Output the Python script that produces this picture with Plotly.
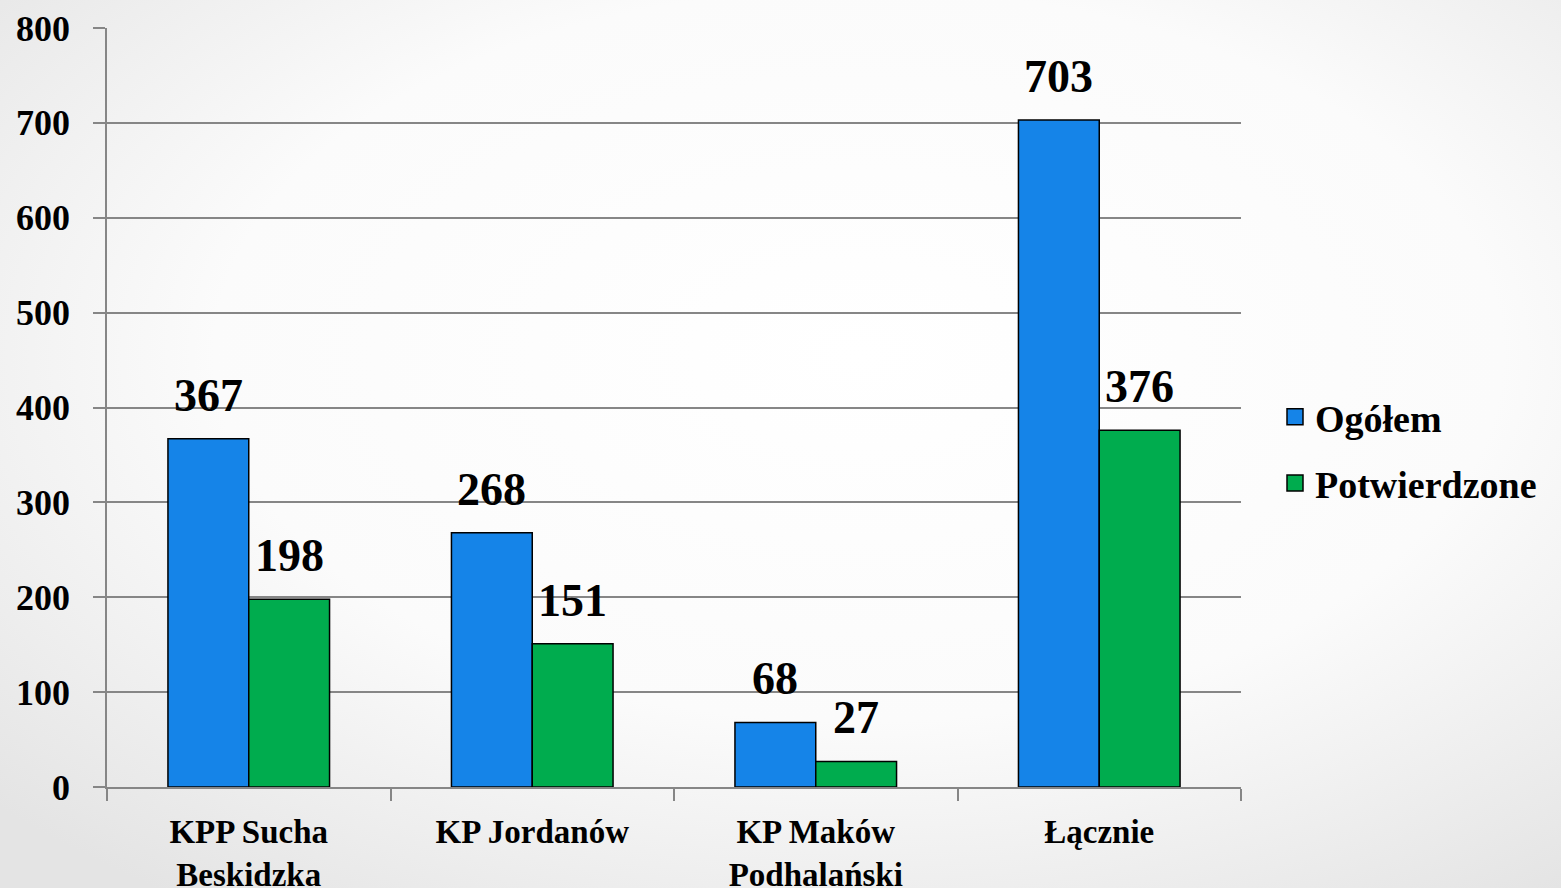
import base64
import plotly.graph_objects as go

categories = ["KPP Sucha<br>Beskidzka", "KP Jordanów", "KP Maków<br>Podhalański", "Łącznie"]
ogolem = [367, 268, 68, 703]
potwierdzone = [198, 151, 27, 376]
series_names = ["Ogółem", "Potwierdzone"]
y_ticks = [0, 100, 200, 300, 400, 500, 600, 700, 800]

FONT = "Palatino Linotype, Book Antiqua, Palatino, Liberation Serif, serif"
W, H = 1561, 888
L, R, T, B = 107, 320, 28, 101
pw, ph = W - L - R, H - T - B
colors = ["#1584e8", "#00ac4e"]

fig = go.Figure()
for name, vals, col, grp in ((series_names[0], ogolem, colors[0], "a"),
                             (series_names[1], potwierdzone, colors[1], "b")):
    fig.add_trace(go.Bar(x=categories, y=vals, name=name, legendgroup=grp, showlegend=False,
                         marker=dict(color=col, line=dict(color="#000000", width=1.5))))
    # legend entry with a larger square swatch
    fig.add_trace(go.Scatter(x=[None], y=[None], mode="markers", name=name, legendgroup=grp,
                             marker=dict(symbol="square", size=20, color=col,
                                         line=dict(color="#000000", width=1.5))))

bar_px = pw / len(categories) * (1 - 0.43) / 2
for vals, sign in ((ogolem, -1), (potwierdzone, 1)):
    for c, v in zip(categories, vals):
        fig.add_annotation(x=c, y=v, xref="x", yref="y", text=str(v),
                           showarrow=False, xshift=sign * bar_px / 2, yshift=16,
                           yanchor="bottom",
                           font=dict(family=FONT, size=46, color="#000", weight="bold"))

svg = f'''<svg xmlns="http://www.w3.org/2000/svg" width="{W}" height="{H}">
<defs><radialGradient id="g" cx="55%" cy="40%" r="75%">
<stop offset="0%" stop-color="#ffffff"/><stop offset="55%" stop-color="#fbfbfb"/>
<stop offset="100%" stop-color="#e4e4e4"/></radialGradient></defs>
<rect width="{W}" height="{H}" fill="url(#g)"/></svg>'''
uri = "data:image/svg+xml;base64," + base64.b64encode(svg.encode()).decode()
fig.add_layout_image(source=uri, xref="paper", yref="paper", x=-L / pw, y=1 + T / ph,
                     sizex=W / pw, sizey=H / ph, xanchor="left", yanchor="top",
                     sizing="stretch", layer="below")

fig.update_layout(
    width=W, height=H,
    margin=dict(l=L, r=R, t=T, b=B, autoexpand=False),
    paper_bgcolor="#f4f4f4", plot_bgcolor="rgba(0,0,0,0)",
    barmode="group", bargap=0.43, bargroupgap=0,
    font=dict(family=FONT, color="#000"),
    showlegend=True,
    legend=dict(x=(1275 - L) / pw, y=(H - B - 450) / ph, xanchor="left", yanchor="middle",
                font=dict(family=FONT, size=38, color="#000", weight="bold"),
                itemsizing="trace", itemwidth=30,
                traceorder="grouped", tracegroupgap=14, bgcolor="rgba(0,0,0,0)"),
)
fig.update_xaxes(showline=True, linecolor="#868686", linewidth=1.5, automargin=False,
                 ticks="outside", tickson="boundaries", ticklen=12, tickcolor="#868686",
                 tickwidth=1.5, ticklabelstandoff=15,
                 tickfont=dict(family=FONT, size=33, color="#000", weight="bold"))
fig.update_yaxes(range=[0, 800], tickvals=y_ticks, automargin=False,
                 showgrid=True, gridcolor="#868686", gridwidth=1.5,
                 showline=True, linecolor="#868686", linewidth=1.5,
                 ticks="outside", ticklen=12, tickcolor="#868686", tickwidth=1.5,
                 ticklabelstandoff=16, zeroline=False,
                 tickfont=dict(family=FONT, size=36, color="#000", weight="bold"))

fig.write_html("out.html", config={"displayModeBar": False},
               post_script="document.body.style.margin='0';")
